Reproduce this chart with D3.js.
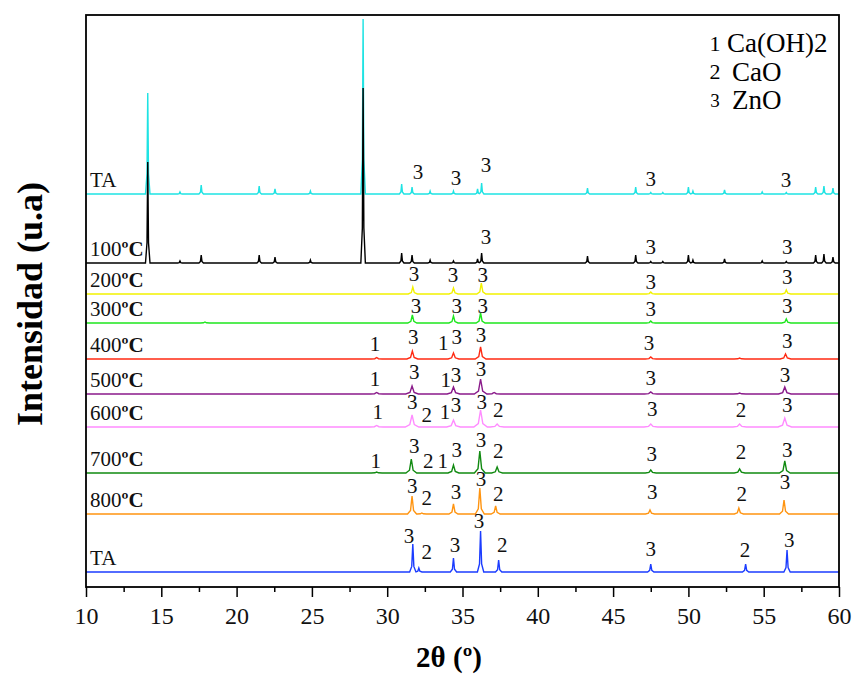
<!DOCTYPE html>
<html>
<head>
<meta charset="utf-8">
<script src="https://cdn.jsdelivr.net/npm/d3@7"></script>
<style>
  body { margin: 0; background: #fff; }
  svg text { font-family: "Liberation Serif", "DejaVu Serif", serif !important; }
</style>
</head>
<body>
<div id="chart"></div>
<script>
// samples, bottom trace last
var sampleLabels = ["TA", "100", "200", "300", "400", "500", "600", "700", "800", "TA"];
var sampleColors = ["#1ee3e3", "#000000", "#f2f200", "#1ee61e", "#ff2a12", "#8a1a8a", "#ff8cff", "#118a11", "#ff9410", "#1b3cff"];
// vertical offset of each trace (a.u.)
var offsets = [393, 324, 293, 264, 228, 193, 160, 114, 73, 15];
// peak half width per trace (degrees)
var peakWidths = [0.05, 0.05, 0.1, 0.1, 0.12, 0.14, 0.15, 0.12, 0.1, 0.07];

// peaks: [2theta, intensity]
var peaksTAtop = [[14.1, 101], [16.24, 2], [17.65, 9], [21.5, 8], [22.55, 5], [24.9, 3], [28.4, 175], [30.96, 10],
  [31.65, 7], [32.85, 3], [34.4, 3], [36.0, 5], [36.27, 11], [43.3, 6], [46.5, 7], [47.5, 1.5], [48.3, 1.5],
  [50.0, 7], [50.3, 3], [52.4, 4], [54.9, 2], [56.5, 1.5], [58.45, 7], [59.0, 8], [59.6, 6]];
var peaks100 = [[14.1, 101], [16.24, 2], [17.65, 8], [21.5, 8], [22.55, 6], [24.9, 3], [28.4, 175], [30.96, 10],
  [31.65, 8], [32.85, 3], [34.4, 2], [36.0, 4], [36.27, 10], [43.3, 7], [46.5, 8], [47.5, 1.5], [48.3, 1.5],
  [50.0, 8], [50.3, 3], [52.4, 4], [54.9, 2], [56.5, 1.5], [58.45, 8], [59.0, 9], [59.6, 6]];
var peaks200 = [[31.7, 7], [34.4, 6], [36.25, 11], [47.5, 2], [56.5, 4]];
var peaks300 = [[17.9, 1], [31.67, 8], [34.4, 7], [36.2, 10], [47.5, 2], [56.5, 4]];
var peaks400 = [[29.3, 1.5], [31.67, 8], [34.4, 6], [36.2, 12], [47.5, 2], [53.4, 1], [56.45, 5]];
var peaks500 = [[29.3, 1.5], [31.65, 8], [34.4, 7], [36.2, 15], [37.1, 1.5], [47.5, 2], [53.4, 1], [56.4, 7]];
var peaks600 = [[29.3, 1.5], [31.65, 12], [34.4, 7], [36.2, 17], [37.3, 3], [47.5, 3], [53.4, 3], [56.4, 9]];
var peaks700 = [[29.3, 1], [31.6, 14], [34.4, 8], [36.15, 22], [37.3, 6], [47.5, 3], [53.4, 4], [56.4, 12]];
var peaks800 = [[31.65, 18], [32.3, 1], [34.4, 10], [36.15, 26], [37.2, 8], [47.45, 4], [53.35, 6], [56.35, 14]];
var peaksTAbottom = [[31.7, 28], [32.1, 4], [34.4, 14], [36.2, 41], [37.4, 12], [47.5, 8], [53.8, 8], [56.55, 22]];
var allPeaks = [peaksTAtop, peaks100, peaks200, peaks300, peaks400, peaks500, peaks600, peaks700, peaks800, peaksTAbottom];

// phase markers: [2theta, height above trace, label]
var marksTAtop = [[32.05, 22, "3"], [34.57, 16, "3"], [36.56, 29, "3"], [47.5, 15, "3"], [56.48, 14, "3"]];
var marks100 = [[36.56, 26, "3"], [47.5, 16, "3"], [56.57, 16, "3"]];
var marks200 = [[31.78, 20, "3"], [34.37, 19, "3"], [36.34, 19, "3"], [47.5, 12, "3"], [56.57, 17, "3"]];
var marks300 = [[31.91, 17, "3"], [34.61, 17, "3"], [36.34, 17, "3"], [47.5, 14, "3"], [56.57, 17, "3"]];
var marks400 = [[29.19, 15, "1"], [31.73, 22, "3"], [33.73, 16, "1"], [34.61, 22, "3"], [36.23, 24, "3"], [47.38, 16, "3"], [56.57, 18, "3"]];
var marks500 = [[29.19, 15, "1"], [31.8, 22, "3"], [33.88, 14, "1"], [34.57, 19, "3"], [36.23, 25, "3"], [47.5, 16, "3"], [56.41, 19, "3"]];
var marks600 = [[29.37, 15, "1"], [31.67, 25, "3"], [32.62, 12, "2"], [33.84, 15, "1"], [34.57, 22, "3"], [36.28, 25, "3"],
  [37.38, 17, "2"], [47.6, 18, "3"], [53.49, 17, "2"], [56.57, 22, "3"]];
var marks700 = [[29.24, 12, "1"], [31.8, 27, "3"], [32.73, 12, "2"], [33.69, 12, "1"], [34.61, 23, "3"], [36.23, 33, "3"],
  [37.38, 22, "2"], [47.56, 19, "3"], [53.49, 21, "2"], [56.57, 23, "3"]];
var marks800 = [[31.67, 28, "3"], [32.62, 16, "2"], [34.57, 22, "3"], [36.23, 35, "3"], [37.38, 20, "2"], [47.6, 22, "3"],
  [53.54, 20, "2"], [56.41, 32, "3"]];
var marksTAbottom = [[31.45, 36, "3"], [32.62, 20, "2"], [34.5, 27, "3"], [36.1, 51, "3"], [37.64, 27, "2"], [47.5, 23, "3"],
  [53.76, 22, "2"], [56.7, 32, "3"]];
var allMarks = [marksTAtop, marks100, marks200, marks300, marks400, marks500, marks600, marks700, marks800, marksTAbottom];

var legendNums = ["1", "2", "3"];
var legendNames = ["Ca(OH)2", "CaO", "ZnO"];

var xTicks = d3.range(10, 61, 5);
var xMinor = d3.range(12.5, 60, 5);

var svg = d3.select("#chart").append("svg")
  .attr("width", 853)
  .attr("height", 675);

var x = d3.scaleLinear().domain([10, 60]).range([86, 839]);
var y = d3.scaleLinear().domain([0, 572]).range([587, 15]);

// peak shape: piecewise linear profile, summed where peaks overlap
function profile(t) {
  t = Math.abs(t);
  if (t >= 3) return 0;
  if (t >= 1) return 0.2 * (3 - t) / 2;
  return 1 - 0.8 * t;
}

function traceData(peaks, w) {
  var xs = [10, 60];
  peaks.forEach(function(p) {
    [-3, -1, 0, 1, 3].forEach(function(k) { xs.push(p[0] + k * w); });
  });
  xs = xs.filter(function(v) { return v >= 10 && v <= 60; }).sort(d3.ascending);
  return xs.map(function(v) {
    var s = 0;
    peaks.forEach(function(p) { s += p[1] * profile((v - p[0]) / w); });
    return [v, s];
  });
}

var plot = svg.append("g");

allPeaks.forEach(function(peaks, i) {
  var off = offsets[i];
  var line = d3.line()
    .x(function(d) { return x(d[0]); })
    .y(function(d) { return y(off + d[1]); });
  plot.append("path")
    .datum(traceData(peaks, peakWidths[i]))
    .attr("fill", "none")
    .attr("stroke", sampleColors[i])
    .attr("stroke-width", 1.4)
    .attr("d", line);
});

// phase markers
allMarks.forEach(function(marks, i) {
  plot.selectAll(null)
    .data(marks)
    .enter().append("text")
    .attr("x", function(d) { return x(d[0]); })
    .attr("y", function(d) { return y(offsets[i] + d[1]); })
    .attr("dy", "0.35em")
    .attr("text-anchor", "middle")
    .attr("font-size", 21)
    .attr("fill", "#111")
    .text(function(d) { return d[2]; });
});

// sample labels
sampleLabels.forEach(function(lab, i) {
  var t = plot.append("text")
    .attr("x", 90)
    .attr("y", y(offsets[i]) - 7)
    .attr("font-size", 21)
    .attr("fill", "#111");
  if (lab === "TA") {
    t.text(lab);
  } else {
    t.append("tspan").text(lab);
    t.append("tspan").attr("font-weight", "bold").text("ºC");
  }
});

// legend
legendNums.forEach(function(n, i) {
  var ly = 43 + i * 28.5;
  svg.append("text")
    .attr("x", 715).attr("y", ly).attr("dy", "0.35em")
    .attr("text-anchor", "middle")
    .attr("font-size", i === 2 ? 19 : 22)
    .text(n);
  svg.append("text")
    .attr("x", 727 + (i > 0 ? 5 : 0)).attr("y", ly).attr("dy", "0.35em")
    .attr("font-size", 27)
    .text(legendNames[i]);
});

// axes
svg.append("g")
  .attr("transform", "translate(0,587)")
  .call(d3.axisBottom(x).tickValues(xMinor).tickSize(5).tickFormat(""))
  .call(function(g) { g.select(".domain").remove(); })
  .selectAll("line").attr("stroke-width", 1.5);

var xAxis = svg.append("g")
  .attr("transform", "translate(0,587)")
  .call(d3.axisBottom(x).tickValues(xTicks).tickSize(10).tickPadding(10).tickFormat(d3.format("d")));
xAxis.select(".domain").remove();
xAxis.selectAll("line").attr("stroke-width", 1.5);
xAxis.selectAll("text")
  .attr("font-size", 24)
  .attr("fill", "#111");

// frame
svg.append("rect")
  .attr("x", 86).attr("y", 15)
  .attr("width", 753).attr("height", 572)
  .attr("fill", "none")
  .attr("stroke", "#000")
  .attr("stroke-width", 1.8);

// axis titles
svg.append("text")
  .attr("x", 449).attr("y", 667)
  .attr("text-anchor", "middle")
  .attr("font-size", 29)
  .attr("font-weight", "bold")
  .text("2θ (º)");

svg.append("text")
  .attr("transform", "translate(42,304) rotate(-90)")
  .attr("text-anchor", "middle")
  .attr("font-size", 36)
  .attr("font-weight", "bold")
  .text("Intensidad (u.a)");
</script>
</body>
</html>
